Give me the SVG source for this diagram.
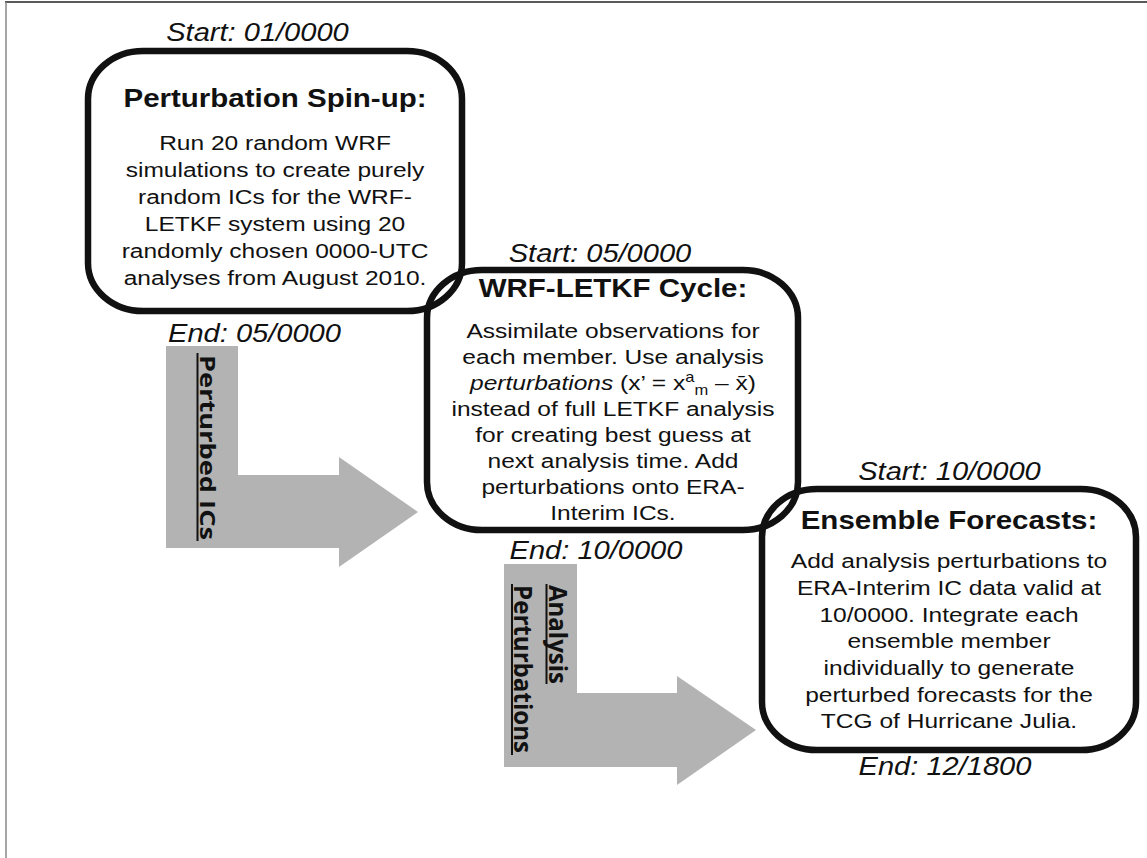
<svg xmlns="http://www.w3.org/2000/svg" width="1147" height="858" viewBox="0 0 1147 858">
<style>
.box{fill:none;stroke:#111;stroke-width:6.5}
.t{font-family:"Liberation Sans",Arial,sans-serif;fill:#111;text-anchor:middle}
.title{font-weight:bold;font-size:25px}
.body{font-size:20.8px}
.time{font-style:italic;font-size:25.5px}
.arrow{fill:#b3b3b3}
.lbl{font-family:"Open Sans","DejaVu Sans",sans-serif;font-weight:bold;fill:#111}
.ul{stroke:#111;stroke-width:2}
</style>
<rect width="1147" height="858" fill="#fff"/>
<line x1="5" y1="2" x2="1147" y2="2" stroke="#222" stroke-width="1.5"/>
<line x1="6" y1="2" x2="6" y2="858" stroke="#888" stroke-width="1.5"/>

<g id="connectors">
  <g id="arrow-perturbed-ics">
    <polygon class="arrow" points="166,346 238,346 238,475 339,475 339,457 418,512 339,567 339,548 166,548"/>
    <text class="lbl" font-size="22" transform="translate(200,355) rotate(90)" textLength="185" lengthAdjust="spacingAndGlyphs">Perturbed ICs</text>
    <line class="ul" x1="197.5" y1="353" x2="197.5" y2="541"/>
  </g>
  <g id="arrow-analysis-perturbations">
    <polygon class="arrow" points="504,564 577,564 577,693 677,693 677,676 756,730 677,785 677,767 504,767"/>
    <text class="lbl" font-size="25" transform="translate(549,585) rotate(90)" textLength="99" lengthAdjust="spacingAndGlyphs">Analysis</text>
    <line class="ul" x1="546.5" y1="584" x2="546.5" y2="684"/>
    <text class="lbl" font-size="25" transform="translate(514,585) rotate(90)" textLength="168" lengthAdjust="spacingAndGlyphs">Perturbations</text>
    <line class="ul" x1="512" y1="584" x2="512" y2="755"/>
  </g>
</g>

<g id="node-spinup">
  <rect class="box" x="88" y="51" width="374" height="260" rx="55" ry="48"/>
  <text class="t time" transform="translate(257.5,41) scale(1.14,1)">Start: 01/0000</text>
  <g transform="translate(275,0) scale(1.18,1)">
    <text class="t title" x="0" y="107">Perturbation Spin-up:</text>
    <text class="t body" x="0" y="150">Run 20 random WRF</text>
    <text class="t body" x="0" y="177">simulations to create purely</text>
    <text class="t body" x="0" y="204">random ICs for the WRF-</text>
    <text class="t body" x="0" y="231">LETKF system using 20</text>
    <text class="t body" x="0" y="258">randomly chosen 0000-UTC</text>
    <text class="t body" x="0" y="285">analyses from August 2010.</text>
  </g>
  <text class="t time" transform="translate(254.5,342) scale(1.14,1)">End: 05/0000</text>
</g>

<g id="node-letkf">
  <rect class="box" x="427" y="270" width="371" height="260" rx="55" ry="48"/>
  <text class="t time" transform="translate(600,262) scale(1.14,1)">Start: 05/0000</text>
  <g transform="translate(613,0) scale(1.18,1)">
    <text class="t title" x="0" y="297">WRF-LETKF Cycle:</text>
    <text class="t body" x="0" y="338">Assimilate observations for</text>
    <text class="t body" x="0" y="364">each member. Use analysis</text>
    <text class="t body" x="0" y="390"><tspan font-style="italic">perturbations</tspan> (x’ = x<tspan font-size="14" dy="-8">a</tspan><tspan font-size="14" dy="13">m</tspan><tspan dy="-5"> – x̄)</tspan></text>
    <text class="t body" x="0" y="416">instead of full LETKF analysis</text>
    <text class="t body" x="0" y="442">for creating best guess at</text>
    <text class="t body" x="0" y="468">next analysis time. Add</text>
    <text class="t body" x="0" y="494">perturbations onto ERA-</text>
    <text class="t body" x="0" y="520">Interim ICs.</text>
  </g>
  <text class="t time" transform="translate(596,559) scale(1.14,1)">End: 10/0000</text>
</g>

<g id="node-forecasts">
  <rect class="box" x="762" y="489" width="374" height="261" rx="55" ry="48"/>
  <text class="t time" transform="translate(949.5,480) scale(1.14,1)">Start: 10/0000</text>
  <g transform="translate(949,0) scale(1.18,1)">
    <text class="t title" x="0" y="529">Ensemble Forecasts:</text>
    <text class="t body" x="0" y="568">Add analysis perturbations to</text>
    <text class="t body" x="0" y="595">ERA-Interim IC data valid at</text>
    <text class="t body" x="0" y="622">10/0000. Integrate each</text>
    <text class="t body" x="0" y="648">ensemble member</text>
    <text class="t body" x="0" y="675">individually to generate</text>
    <text class="t body" x="0" y="702">perturbed forecasts for the</text>
    <text class="t body" x="0" y="728">TCG of Hurricane Julia.</text>
  </g>
  <text class="t time" transform="translate(945,775) scale(1.14,1)">End: 12/1800</text>
</g>
</svg>
